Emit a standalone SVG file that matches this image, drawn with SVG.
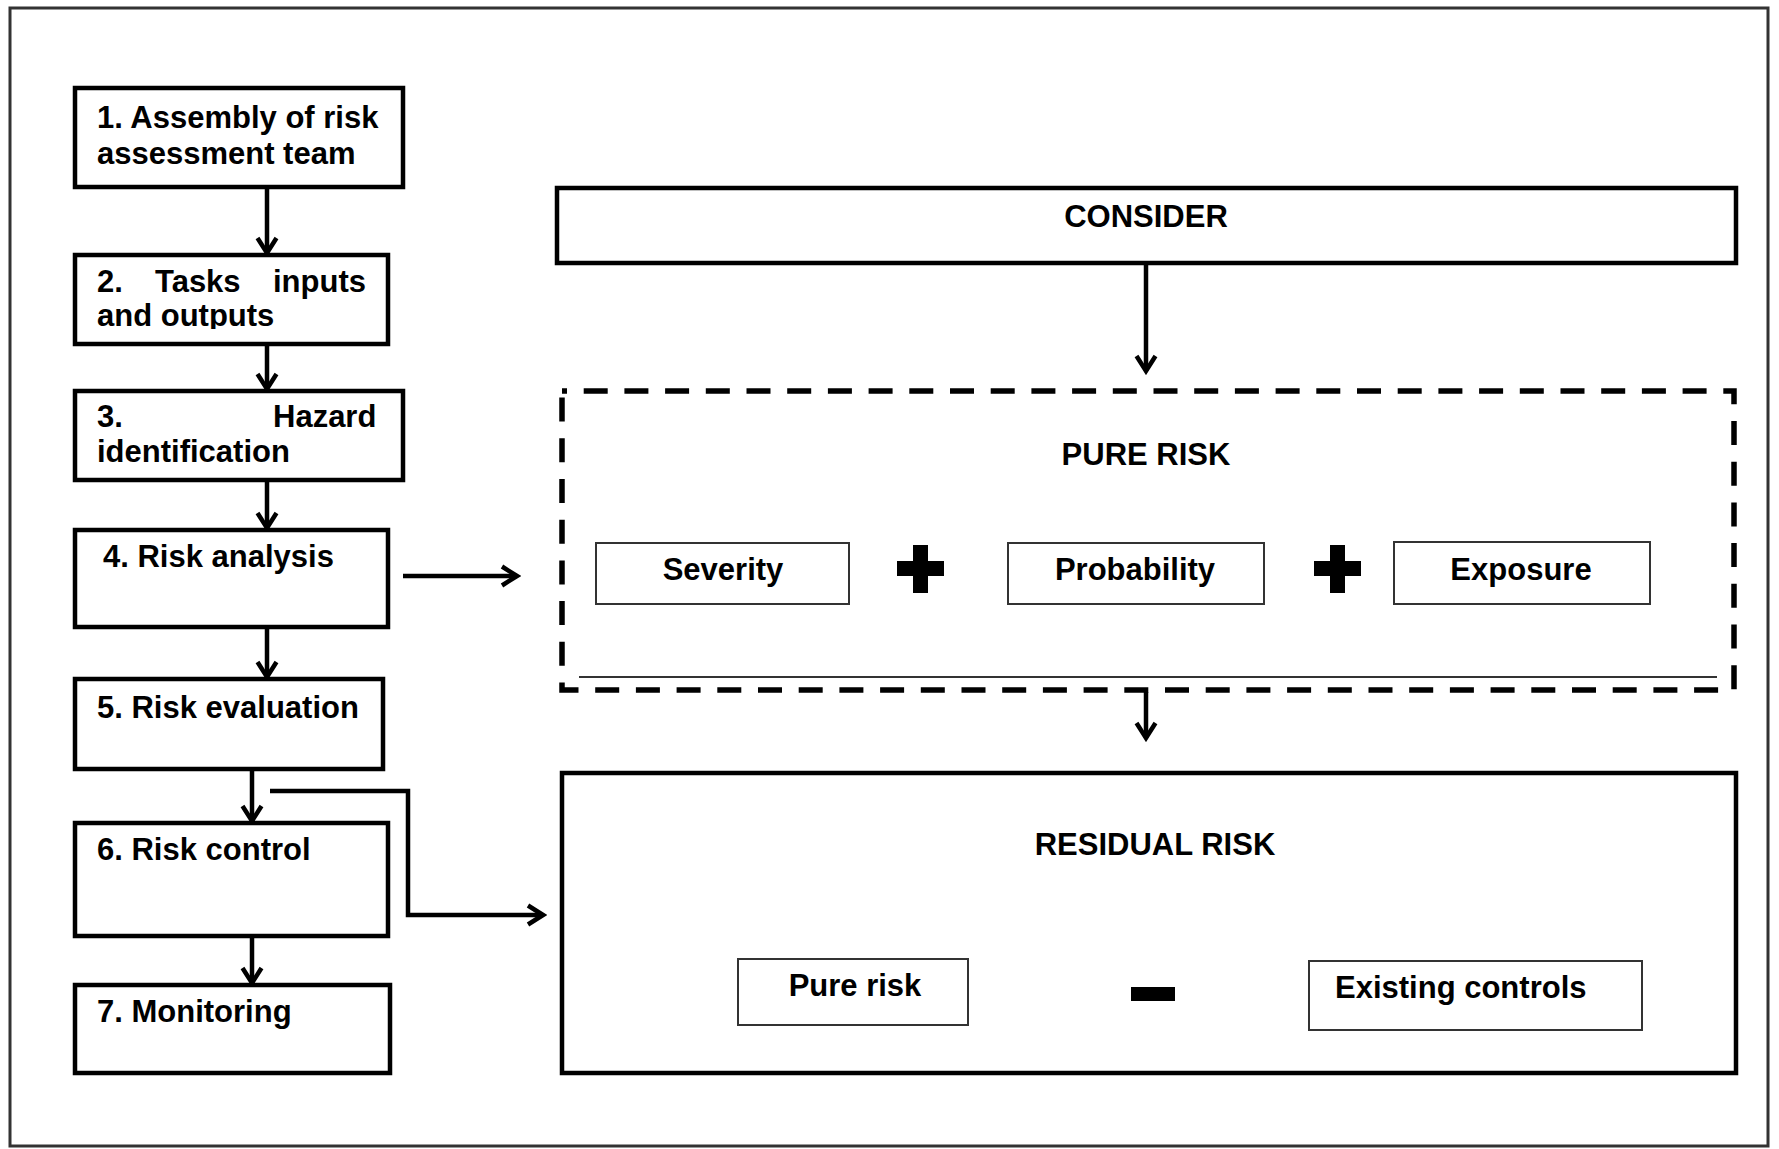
<svg xmlns="http://www.w3.org/2000/svg" width="1779" height="1149" viewBox="0 0 1779 1149">
  <style>
    .frame { fill: none; stroke: #333; stroke-width: 3; }
    .box { fill: #fff; stroke: #000; stroke-width: 4.5; }
    .sub { fill: #fff; stroke: #333; stroke-width: 2; }
    .dash { fill: none; stroke: #000; stroke-width: 5.5; stroke-dasharray: 24 16.7; stroke-dashoffset: 19; }
    .conn { fill: none; stroke: #000; stroke-width: 4.5; }
    text { font-family: "Liberation Sans", Arial, sans-serif; font-weight: bold; font-size: 31px; fill: #000; }
    .c { text-anchor: middle; }
  </style>
  <defs>
    <marker id="arr" viewBox="0 0 24 24" markerWidth="24" markerHeight="24" refX="20" refY="12" orient="auto" markerUnits="userSpaceOnUse">
      <path d="M5,2.5 L20,12 L5,21.5" fill="none" stroke="#000" stroke-width="4.5" stroke-linejoin="miter"/>
    </marker>
    <clipPath id="clip2"><rect x="75" y="255" width="313" height="74"/></clipPath>
  </defs>

  <rect fill="#fff" x="0" y="0" width="1779" height="1149"/>
  <rect class="frame" x="10" y="8" width="1758" height="1138"/>

  <!-- process steps -->
  <g id="step1">
    <rect class="box" x="75" y="88" width="328" height="99"/>
    <text x="97" y="128">1. Assembly of risk</text>
    <text x="97" y="164">assessment team</text>
  </g>
  <g id="step2">
    <rect class="box" x="75" y="255" width="313" height="89"/>
    <text y="292"><tspan x="97">2.</tspan><tspan x="155">Tasks</tspan><tspan x="273">inputs</tspan></text>
    <text x="97" y="326" clip-path="url(#clip2)">and outputs</text>
  </g>
  <g id="step3">
    <rect class="box" x="75" y="391" width="328" height="89"/>
    <text y="427"><tspan x="97">3.</tspan><tspan x="273">Hazard</tspan></text>
    <text x="97" y="462">identification</text>
  </g>
  <g id="step4">
    <rect class="box" x="75" y="530" width="313" height="97"/>
    <text x="103" y="567">4. Risk analysis</text>
  </g>
  <g id="step5">
    <rect class="box" x="75" y="679" width="308" height="90"/>
    <text x="97" y="718">5. Risk evaluation</text>
  </g>
  <g id="step6">
    <rect class="box" x="75" y="823" width="313" height="113"/>
    <text x="97" y="860">6. Risk control</text>
  </g>
  <g id="step7">
    <rect class="box" x="75" y="985" width="315" height="88"/>
    <text x="97" y="1022">7. Monitoring</text>
  </g>

  <!-- right-hand panel -->
  <g id="consider">
    <rect class="box" x="557" y="188" width="1179" height="75"/>
    <text class="c" x="1146" y="227">CONSIDER</text>
  </g>
  <g id="pure-risk">
    <rect class="dash" x="562" y="391" width="1172" height="299"/>
    <line x1="579" y1="677" x2="1717" y2="677" stroke="#333" stroke-width="2"/>
    <text class="c" x="1146" y="465">PURE RISK</text>
  </g>
  <g id="severity">
    <rect class="sub" x="596" y="543" width="253" height="61"/>
    <text class="c" x="723" y="580">Severity</text>
  </g>
  <g id="plus1">
    <path d="M913,545 h15 v16 h16 v15 h-16 v17 h-15 v-17 h-16 v-15 h16 z" fill="#000"/>
  </g>
  <g id="probability">
    <rect class="sub" x="1008" y="543" width="256" height="61"/>
    <text class="c" x="1135" y="580">Probability</text>
  </g>
  <g id="plus2">
    <path d="M1330,545 h15 v16 h16 v15 h-16 v17 h-15 v-17 h-16 v-15 h16 z" fill="#000"/>
  </g>
  <g id="exposure">
    <rect class="sub" x="1394" y="542" width="256" height="62"/>
    <text class="c" x="1521" y="580">Exposure</text>
  </g>

  <g id="residual-risk">
    <rect class="box" x="562" y="773" width="1174" height="300"/>
    <text class="c" x="1155" y="855">RESIDUAL RISK</text>
  </g>
  <g id="pure-risk-term">
    <rect class="sub" x="738" y="959" width="230" height="66"/>
    <text class="c" x="855" y="996">Pure risk</text>
  </g>
  <g id="minus">
    <rect x="1131" y="987" width="44" height="14" fill="#000"/>
  </g>
  <g id="existing-controls">
    <rect class="sub" x="1309" y="961" width="333" height="69"/>
    <text x="1335" y="998">Existing controls</text>
  </g>

  <!-- connectors -->
  <g id="connectors">
    <line class="conn" x1="267" y1="189" x2="267" y2="253" marker-end="url(#arr)"/>
    <line class="conn" x1="267" y1="346" x2="267" y2="389" marker-end="url(#arr)"/>
    <line class="conn" x1="267" y1="482" x2="267" y2="528" marker-end="url(#arr)"/>
    <line class="conn" x1="267" y1="629" x2="267" y2="677" marker-end="url(#arr)"/>
    <line class="conn" x1="252" y1="771" x2="252" y2="821" marker-end="url(#arr)"/>
    <line class="conn" x1="252" y1="938" x2="252" y2="983" marker-end="url(#arr)"/>
    <line class="conn" x1="403" y1="576" x2="517" y2="576" marker-end="url(#arr)"/>
    <polyline class="conn" points="270,791 408,791 408,915 543,915" marker-end="url(#arr)"/>
    <line class="conn" x1="1146" y1="265" x2="1146" y2="371" marker-end="url(#arr)"/>
    <line class="conn" x1="1146" y1="692" x2="1146" y2="738" marker-end="url(#arr)"/>
  </g>
</svg>
